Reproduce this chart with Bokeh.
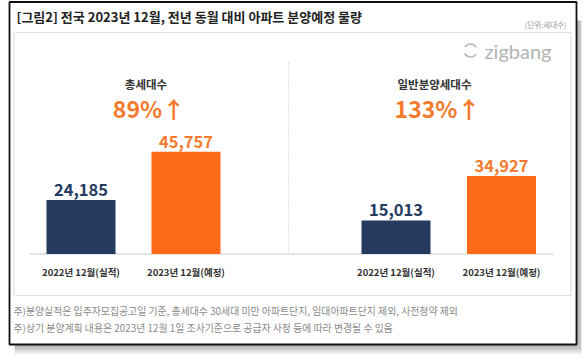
from bokeh.plotting import figure
from bokeh.models import Range1d
from bokeh.core.properties import value
from bokeh.embed import file_html
from bokeh.resources import INLINE

# ---- data ----
title_text = "[그림2] 전국 2023년 12월, 전년 동월 대비 아파트 분양예정 물량"
unit_text = "(단위:세대수)"
brand_text = "zigbang"
panel_titles = ["총세대수", "일반분양세대수"]
growth_labels = ["89%↑", "133%↑"]
periods = ["2022년 12월(실적)", "2023년 12월(예정)"]
total_units = [24185, 45757]
general_units = [15013, 34927]
notes = [
    "주)분양실적은 입주자모집공고일 기준, 총세대수 30세대 미만 아파트단지, 임대아파트단지 제외, 사전청약 제외",
    "주)상기 분양계획 내용은 2023년 12월 1일 조사기준으로 공급자 사정 등에 따라 변경될 수 있음",
]

FONT = value("Noto Sans CJK KR")
NAVY = "#243a5f"
ORANGE = "#fd6a1a"
ORANGE_T = "#f47a2e"

W, H = 584, 362
p = figure(width=W, height=H, output_backend="svg", toolbar_location=None,
           x_range=Range1d(0, W), y_range=Range1d(H, 0),
           min_border=0, outline_line_color=None, background_fill_color="white",
           border_fill_color="white")
p.axis.visible = False
p.grid.visible = False

# value scale: baseline at y=253.5, 0.002233 px per unit
base = 253.5
k = 0.002233
p.extra_y_ranges = {"val": Range1d(start=-(H - base) / k, end=base / k)}

# shadow
for i in range(1, 11):
    p.quad(left=14, right=576 + min(i, 5), top=20, bottom=344 + i,
           fill_color="black", fill_alpha=0.035, line_color=None)
# frame
p.quad(left=9, right=576, top=1.5, bottom=344, fill_color="white",
       line_color="#111111", line_width=1.8)
# inner box
p.quad(left=13.5, right=570.5, top=32, bottom=295, fill_color="white",
       line_color="#e2e2e2", line_width=1.2)

# title and unit
p.text(x=[16], y=[16], text=[title_text], text_font=FONT, text_font_size="13px",
       text_font_style="bold", text_color="#222222", text_baseline="middle")
p.text(x=[566], y=[24], text=[unit_text], text_font=FONT, text_font_size="7.5px",
       text_color="#9a9a9a", text_align="right", text_baseline="middle")

# brand
p.text(x=[551], y=[50], text=[brand_text], text_font=value("Lato"), text_font_size="20px",
       text_color="#b4b4b4", text_align="right", text_baseline="middle")
p.arc(x=[470], y=[50], radius=6.5, start_angle=0.5, end_angle=2.6,
      line_color="#b8b8b8", line_width=1.6)
p.arc(x=[470], y=[50], radius=6.5, start_angle=3.6, end_angle=5.7,
      line_color="#b8b8b8", line_width=1.6)

# divider and baseline
p.line(x=[288, 288], y=[62, 253], line_color="#cccccc", line_width=1.2, line_dash="1 2")
p.line(x=[29, 553], y=[base, base], line_color="#dddddd", line_width=1.5)

# panels
panel_values = [total_units, general_units]
bar_x = [[80.5, 185.5], [395.5, 501]]
head_x = [145.5, 434]
for vals, xs, hx, t, g in zip(panel_values, bar_x, head_x, panel_titles, growth_labels):
    p.vbar(x=xs, top=vals, bottom=0, width=69, fill_color=[NAVY, ORANGE],
           line_color=None, y_range_name="val")
    p.text(x=xs, y=vals, text=[f"{v:,}" for v in vals], text_font=FONT,
           text_font_size="16.5px", text_font_style="bold",
           text_color=[NAVY, ORANGE_T], text_align="center", text_baseline="bottom",
           y_offset=-4, y_range_name="val")
    p.text(x=xs, y=[271, 271], text=periods, text_font=FONT, text_font_size="9.5px",
           text_font_style="bold", text_color="#333333", text_align="center",
           text_baseline="middle")
    p.text(x=[hx], y=[83], text=[t], text_font=FONT, text_font_size="11.5px",
           text_font_style="bold", text_color="#333333", text_align="center",
           text_baseline="middle")
    p.text(x=[hx + 3], y=[107], text=[g], text_font=FONT, text_font_size="23px",
           text_font_style="bold", text_color=ORANGE_T, text_align="center",
           text_baseline="middle")

# notes
p.text(x=[13, 13], y=[310, 327], text=notes, text_font=FONT, text_font_size="9.9px",
       text_color="#8a8a8a", text_baseline="middle")

open("out.html", "w").write(file_html(p, INLINE))
